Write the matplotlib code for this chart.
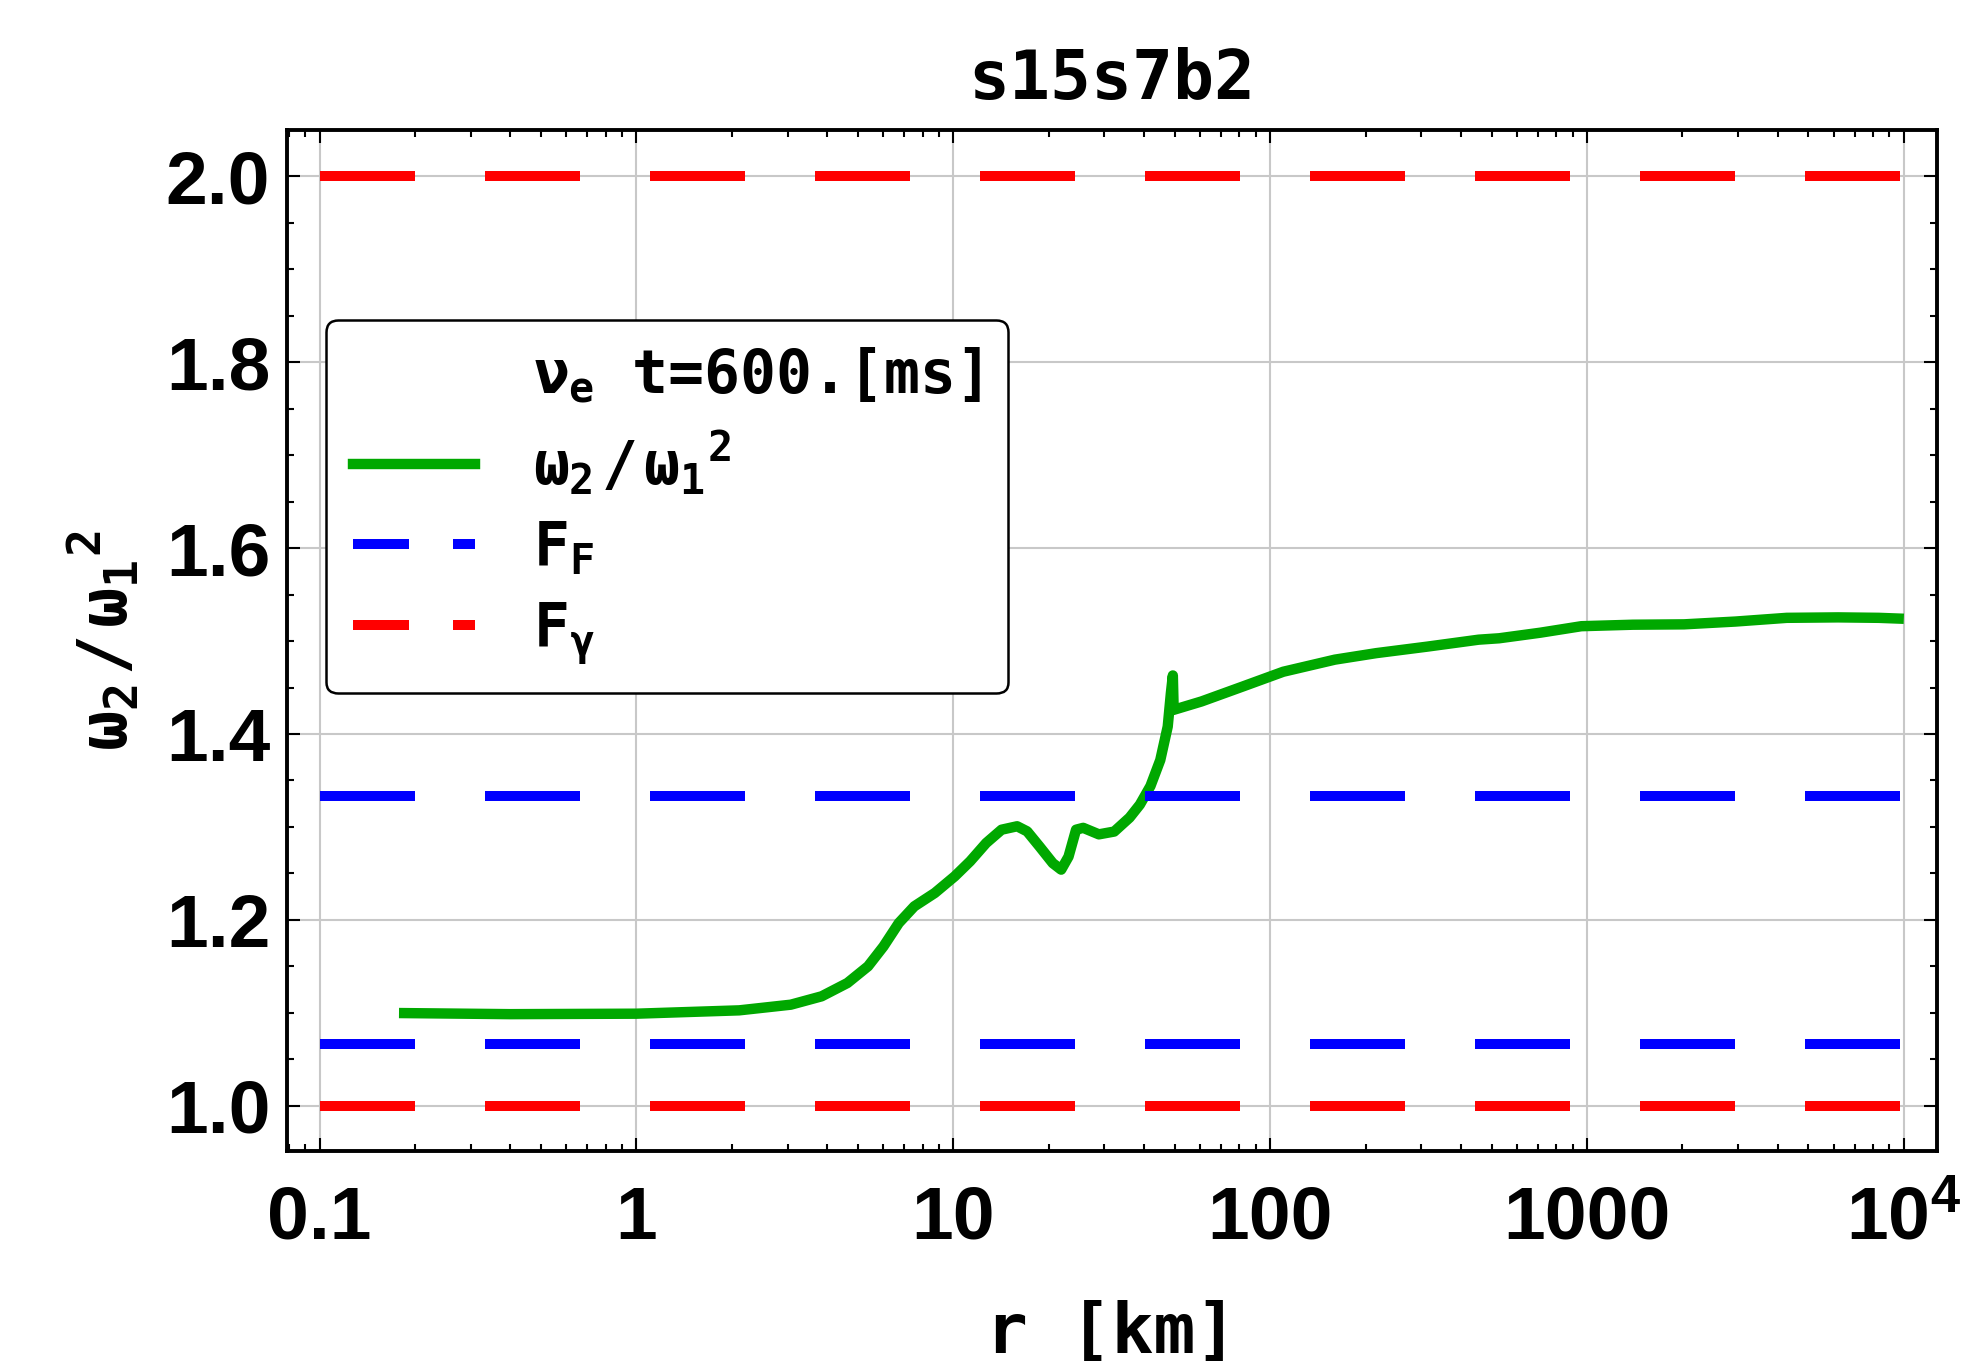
import matplotlib
matplotlib.use('Agg')
import matplotlib.pyplot as plt
from matplotlib.lines import Line2D
from matplotlib.ticker import FixedLocator, LogLocator, MultipleLocator, NullFormatter

# ---- data ----
r_km = [0.178, 0.4, 1.0, 2.11, 3.07, 3.84, 4.63, 5.38, 6.02, 6.73, 7.53, 8.74,
        10.1, 11.3, 12.7, 14.2, 15.9, 17.1, 18.7, 20.6, 21.9, 23.1, 24.4, 25.7,
        28.8, 32.2, 36.0, 38.8, 41.9, 45.0, 47.5, 48.6, 49.3, 49.6, 60.7, 81.8,
        110, 160, 216, 313, 455, 528, 712, 960, 1395, 2025, 2940, 4270, 6200,
        8340, 10000]
ratio = [1.0997, 1.0985, 1.099, 1.1026, 1.1087, 1.1177, 1.132, 1.150, 1.1714,
         1.1966, 1.2145, 1.2289, 1.2468, 1.263, 1.2827, 1.297, 1.3007, 1.2952,
         1.279, 1.261, 1.254, 1.268, 1.297, 1.299, 1.292, 1.295, 1.310, 1.324,
         1.344, 1.372, 1.408, 1.444, 1.463, 1.426, 1.435, 1.451, 1.467, 1.480,
         1.487, 1.494, 1.5015, 1.503, 1.509, 1.516, 1.5176, 1.518, 1.521, 1.525,
         1.5255, 1.525, 1.524]
ff_levels = [1.0667, 1.3333]      # F_F limits
fg_levels = [1.0, 2.0]            # F_gamma limits
r_span = [0.1, 1e4]

x_ticks = [0.1, 1, 10, 100, 1000, 1e4]
x_labels = ['0.1', '1', '10', '100', '1000', r'$\mathbf{10^4}$']
y_ticks = [1.0, 1.2, 1.4, 1.6, 1.8, 2.0]
y_labels = ['1.0', '1.2', '1.4', '1.6', '1.8', '2.0']

title = 's15s7b2'
legend_head = r'$ν_\mathrm{e}$ t=600.[ms]'
ratio_label = r'$ω_2\,/\,ω_1{}^2$'

# ---- style ----
plt.rcParams['font.family'] = ['DejaVu Sans Mono', 'DejaVu Sans']
plt.rcParams['font.weight'] = 'bold'
plt.rcParams['mathtext.fontset'] = 'custom'
plt.rcParams['mathtext.rm'] = 'DejaVu Sans Mono:bold'
plt.rcParams['mathtext.it'] = 'DejaVu Sans Mono:bold'
plt.rcParams['mathtext.bf'] = 'Liberation Sans:bold'

GREEN, BLUE, RED = '#00a800', '#0000ff', '#ff0000'
DASH = (0, (9.5, 7.0))
DASH_LEG = (0, (5.6, 4.4))

fig = plt.figure(figsize=(19.66, 13.64), dpi=100)
ax = fig.add_axes([0.146, 0.156, 0.839, 0.7487])

ax.plot(r_km, ratio, color=GREEN, lw=7.5, solid_joinstyle='round', solid_capstyle='butt', zorder=3)
for v in ff_levels:
    ax.plot(r_span, [v, v], color=BLUE, lw=7.2, ls=DASH, dash_capstyle='butt', zorder=4)
for v in fg_levels:
    ax.plot(r_span, [v, v], color=RED, lw=7.2, ls=DASH, dash_capstyle='butt', zorder=4)

ax.set_xscale('log')
ax.set_xlim(0.0789, 12680)
ax.set_ylim(0.951, 2.05)

# ---- ticks / grid ----
ax.xaxis.set_major_locator(FixedLocator(x_ticks))
ax.xaxis.set_minor_locator(LogLocator(base=10, subs=range(2, 10), numticks=20))
ax.xaxis.set_minor_formatter(NullFormatter())
ax.set_xticks(x_ticks, x_labels)
ax.set_yticks(y_ticks, y_labels)
ax.yaxis.set_minor_locator(MultipleLocator(0.05))
ax.tick_params(which='both', direction='in', top=True, right=True, width=1.5, color='black')
ax.tick_params(which='major', length=9.5)
ax.tick_params(which='minor', length=5)
ax.tick_params(axis='x', which='major', pad=63)
ax.tick_params(axis='y', which='major', pad=12)
for lbl in ax.get_xticklabels() + ax.get_yticklabels():
    lbl.set_fontfamily('Liberation Sans')
    lbl.set_fontweight('bold')
    lbl.set_fontsize(54)
for lbl in ax.get_xticklabels():
    lbl.set_va('baseline')
ax.grid(True, which='major', color='#c8c8c8', lw=1.5)
for s in ax.spines.values():
    s.set_linewidth(2.8)

# ---- labels ----
ax.set_title(title, fontsize=49, fontweight='bold', pad=22)
ax.set_xlabel('r [km]', fontsize=50, fontweight='bold')
ax.xaxis.set_label_coords(0.5, -0.146)
ax.set_ylabel(ratio_label, fontsize=48)
ax.yaxis.set_label_coords(-0.088, 0.5)

# ---- legend ----
handles = [
    Line2D([], [], ls='none', label=legend_head),
    Line2D([], [], color=GREEN, lw=7.5, label=ratio_label),
    Line2D([], [], color=BLUE, lw=7.2, ls=DASH_LEG, dash_capstyle='butt', label=r'$\mathrm{F}_\mathrm{F}$'),
    Line2D([], [], color=RED, lw=7.2, ls=DASH_LEG, dash_capstyle='butt', label=r'$\mathrm{F}_γ$'),
]
leg = ax.legend(handles=handles, loc='upper left', bbox_to_anchor=(0.0236, 0.814),
                borderaxespad=0, fontsize=43, handlelength=2.05, handletextpad=0.96,
                borderpad=0.45, labelspacing=0.36, fancybox=True, framealpha=1)
leg.get_frame().set_edgecolor('black')
leg.get_frame().set_linewidth(1.8)

fig.savefig('out.png', dpi=100)
